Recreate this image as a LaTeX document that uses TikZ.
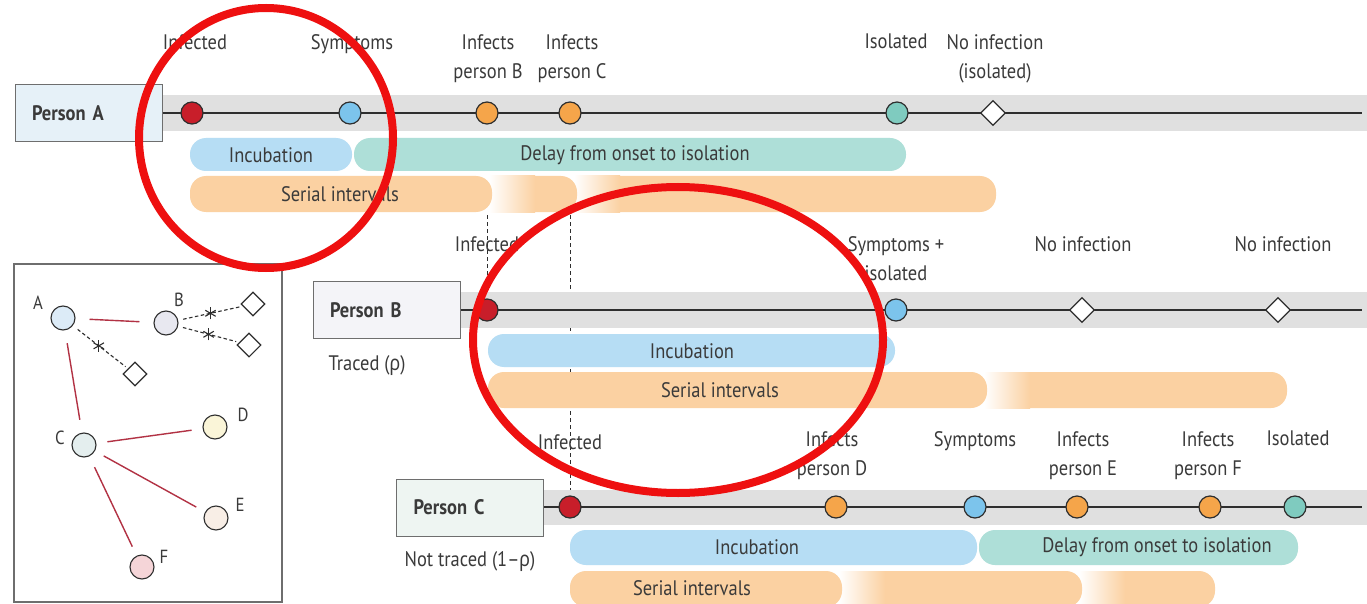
\documentclass[tikz,border=0pt]{standalone}
\usepackage{fontspec}
\setmainfont[FakeStretch=0.88]{PT Sans}
\newfontfamily\grk[FakeStretch=0.85]{Noto Sans}
\usetikzlibrary{shapes.geometric,calc}
\definecolor{txt}{HTML}{3A3A3A}
\definecolor{linec}{HTML}{2E2E2E}
\definecolor{bandc}{HTML}{E0E0E0}
\definecolor{boxc}{HTML}{6E6E6E}
\definecolor{cred}{HTML}{C81E2A}
\definecolor{cblue}{HTML}{7CC4EC}
\definecolor{corange}{HTML}{F5A54A}
\definecolor{cteal}{HTML}{7FCBBF}
\definecolor{incb}{HTML}{B6DDF4}
\definecolor{dlyb}{HTML}{AEDFD8}
\definecolor{serb}{HTML}{FBD1A2}
\definecolor{boxA}{HTML}{E6F1F8}
\definecolor{boxB}{HTML}{F4F4F8}
\definecolor{boxC}{HTML}{EEF5F2}
\definecolor{annot}{HTML}{EE1010}
\definecolor{netred}{HTML}{B23244}
\definecolor{nA}{HTML}{DCEBF7}
\definecolor{nB}{HTML}{E8E8F0}
\definecolor{nC}{HTML}{E4EEEE}
\definecolor{nD}{HTML}{FAF5D8}
\definecolor{nE}{HTML}{F8EEE6}
\definecolor{nF}{HTML}{F5D5D8}
\tikzset{
  evt/.style={circle,draw=linec,line width=1.2pt,minimum size=22pt,inner sep=0pt},
  nodiam/.style={diamond,draw=linec,fill=white,line width=1.2pt,minimum width=25pt,minimum height=25pt,inner sep=0pt},
  lbl/.style={font=\fontsize{21}{29}\selectfont,text=txt,align=center,inner sep=0pt},
  pbox/.style={draw=boxc,line width=1pt,text width=113pt,inner xsep=17pt,align=left,minimum height=57pt,font=\fontsize{21}{26}\selectfont\bfseries,text=txt},
  tl/.style={draw=linec,line width=1.2pt},
  dashc/.style={draw=linec,line width=1pt,dash pattern=on 4pt off 3pt},
  netn/.style={circle,draw=linec,line width=1.1pt,minimum size=24pt,inner sep=0pt},
  netd/.style={diamond,draw=linec,fill=white,line width=1.1pt,minimum width=24pt,minimum height=24pt,inner sep=0pt},
  netl/.style={draw=netred,line width=1.4pt},
  netdash/.style={draw=linec,line width=1.1pt,dash pattern=on 3.5pt off 2.5pt},
  astl/.style={draw=linec,line width=1.1pt},
  nlab/.style={font=\fontsize{19}{19}\selectfont,text=txt,inner sep=0pt},
  ann/.style={draw=annot,line width=8pt}
}
% serial segment with faded left end: x0,x1,y0,y1
\newcommand{\serfade}[4]{%
  \fill[serb,rounded corners=16pt] (#1,#3) rectangle (#2,#4);
  \shade[left color=white,right color=serb] (#1-1,#3) rectangle (#1+45,#4);}
\newcommand{\serpill}[4]{%
  \fill[serb,rounded corners=16pt] (#1,#3) rectangle (#2,#4);}
% asterisk drawn at a named coordinate
\newcommand{\astmark}[1]{%
  \draw[astl] ($(#1)+(90:6)$) -- ($(#1)+(270:6)$);
  \draw[astl] ($(#1)+(30:6)$) -- ($(#1)+(210:6)$);
  \draw[astl] ($(#1)+(150:6)$) -- ($(#1)+(330:6)$);}
\begin{document}
\begin{tikzpicture}[x=1pt,y=-1pt]
\clip (0,0) rectangle (1367,604);
\fill[white] (0,0) rectangle (1367,604);

% dashed transmission lines (behind)
\coordinate (dB) at (487,215);
\coordinate (dC) at (570,215);

%================ Person A ================
\fill[bandc] (162,95) rectangle (1367,131);
\node[pbox,fill=boxA] (pA) at (88.5,113.5) {Person A};
\coordinate (endA) at (1362,113);
\draw[tl] (pA.east |- endA) -- (endA);
\node[evt,fill=cred] (aInf) at (192,113) {};
\node[evt,fill=cblue] (aSym) at (350,113) {};
\node[evt,fill=corange] (aB) at (487,113) {};
\node[evt,fill=corange] (aC) at (570,113) {};
\node[evt,fill=cteal] (aIso) at (897,113) {};
\node[nodiam] (aNo) at (993,113) {};
\node[lbl,anchor=north] at (195,34) {Infected};
\node[lbl,anchor=north] at (352,34) {Symptoms};
\node[lbl,anchor=north] at (488,34) {Infects\\person B};
\node[lbl,anchor=north] at (572,34) {Infects\\person C};
\node[lbl,anchor=north] at (896,34) {Isolated};
\node[lbl,anchor=north] at (995,34) {No infection\\(isolated)};
\fill[incb,rounded corners=16pt] (190,138) rectangle (352,171);
\fill[dlyb,rounded corners=16pt] (354,138) rectangle (906,171);
\node[lbl] at (271,155) {Incubation};
\node[lbl] at (635,155) {Delay from onset to isolation};
\serfade{575}{996}{176}{212}
\serfade{490}{577}{176}{212}
\serpill{190}{492}{176}{212}
\node[lbl] at (340,194) {Serial intervals};

%================ Person B ================
\node[evt,fill=cred] (bInf) at (487,310) {};
\node[evt,fill=cred] (cInf) at (570,507) {};
\draw[dashc] (dB) -- (bInf.north);
\draw[dashc] (dC) -- (cInf.north);

\fill[bandc] (460,292) rectangle (1367,328);
\node[pbox,fill=boxB] (pB) at (386.5,310) {Person B};
\coordinate (endB) at (1362,310);
\draw[tl] (pB.east |- endB) -- (endB);
\node[evt,fill=cred] at (bInf) {};
\node[evt,fill=cblue] (bSym) at (896,310) {};
\node[nodiam] (bNo1) at (1082,310) {};
\node[nodiam] (bNo2) at (1278,310) {};
\node[lbl,anchor=north] at (487,236) {Infected};
\node[lbl,anchor=north] at (896,236) {Symptoms +\\isolated};
\node[lbl,anchor=north] at (1083,236) {No infection};
\node[lbl,anchor=north] at (1283,236) {No infection};
\node[lbl] at (367,366) {Traced ({\grk ρ})};
\fill[incb,rounded corners=16pt] (488,334) rectangle (895,367);
\node[lbl] at (692,351) {Incubation};
\serfade{985}{1287}{372}{408}
\serpill{488}{987}{372}{408}
\node[lbl] at (720,390) {Serial intervals};

%================ Person C ================
\fill[bandc] (543,490) rectangle (1367,525);
\node[pbox,fill=boxC] (pC) at (470,507.5) {Person C};
\coordinate (endC) at (1362,507);
\draw[tl] (pC.east |- endC) -- (endC);
\node[evt,fill=cred] at (cInf) {};
\node[evt,fill=corange] (cD) at (836,507) {};
\node[evt,fill=cblue] (cSym) at (975,507) {};
\node[evt,fill=corange] (cE) at (1077,507) {};
\node[evt,fill=corange] (cF) at (1210,507) {};
\node[evt,fill=cteal] (cIso) at (1295,507) {};
\node[lbl,anchor=north] at (570,434) {Infected};
\node[lbl,anchor=north] at (832,431) {Infects\\person D};
\node[lbl,anchor=north] at (975,431) {Symptoms};
\node[lbl,anchor=north] at (1083,431) {Infects\\person E};
\node[lbl,anchor=north] at (1208,431) {Infects\\person F};
\node[lbl,anchor=north] at (1298,431) {Isolated};
\node[lbl] at (470,562) {Not traced (1–{\grk ρ})};
\fill[incb,rounded corners=16pt] (570,530) rectangle (977,565);
\fill[dlyb,rounded corners=16pt] (979,530) rectangle (1298,565);
\node[lbl] at (757,547) {Incubation};
\node[lbl] at (1157,547) {Delay from onset to isolation};
\serfade{1080}{1215}{571}{607}
\serfade{840}{1082}{571}{607}
\serpill{570}{842}{571}{607}
\node[lbl] at (692,588) {Serial intervals};

%================ Network inset ================
\draw[boxc,line width=1.2pt] (14,264) rectangle (282,602);
\node[netn,fill=nA] (nA) at (63,318) {};
\node[netn,fill=nB] (nB) at (166,323) {};
\node[netn,fill=nC] (nC) at (84,445) {};
\node[netn,fill=nD] (nD) at (215,427) {};
\node[netn,fill=nE] (nE) at (216,518) {};
\node[netn,fill=nF] (nF) at (142,567) {};
\node[netd] (d1) at (253,304) {};
\node[netd] (d2) at (249,345) {};
\node[netd] (d3) at (135,374) {};
\node[nlab] at (38,303) {A};
\node[nlab] at (179,300) {B};
\node[nlab] at (60,438) {C};
\node[nlab] at (243,415) {D};
\node[nlab] at (240,505) {E};
\node[nlab] at (164,557) {F};
\draw[netl,shorten <=14pt,shorten >=14pt] (nA) -- (nB);
\draw[netl,shorten <=13pt,shorten >=13pt] (nA) -- (nC);
\draw[netl,shorten <=11pt,shorten >=11pt] (nC) -- (nD);
\draw[netl,shorten <=10pt,shorten >=10pt] (nC) -- (nE);
\draw[netl,shorten <=12pt,shorten >=10pt] (nC) -- (nF);
\draw[netdash,shorten <=6pt,shorten >=3pt] (nA) -- (d3) coordinate[pos=0.47] (s3);
\draw[netdash,shorten <=5pt,shorten >=3pt] (nB) -- (d1) coordinate[pos=0.5] (s1);
\draw[netdash,shorten <=5pt,shorten >=3pt] (nB) -- (d2) coordinate[pos=0.5] (s2);
\astmark{s1}
\astmark{s2}
\astmark{s3}

%================ Annotations ================
\draw[ann] (266,138) ellipse [x radius=127,y radius=130];
\draw[ann] (678,340) ellipse [x radius=205,y radius=153];
\end{tikzpicture}
\end{document}
